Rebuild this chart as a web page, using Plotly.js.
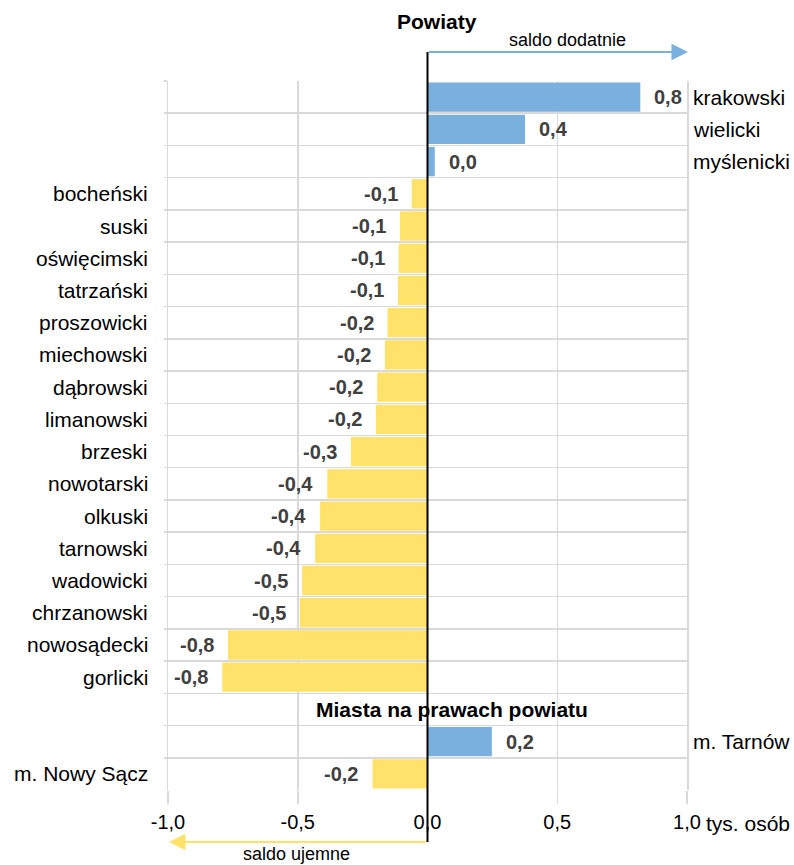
<!DOCTYPE html>
<html><head><meta charset="utf-8">
<script src="https://cdn.plot.ly/plotly-3.0.1.min.js"></script>
<style>html,body{margin:0;padding:0;background:#fff}</style>
</head><body><div id="chart" style="width:794px;height:865px"></div>
<script>
// ---- data ----
const powiaty = ['krakowski','wielicki','myślenicki','bocheński','suski','oświęcimski','tatrzański','proszowicki','miechowski','dąbrowski','limanowski','brzeski','nowotarski','olkuski','tarnowski','wadowicki','chrzanowski','nowosądecki','gorlicki'];
const powiatyValues = [0.82, 0.376, 0.028, -0.061, -0.106, -0.111, -0.114, -0.154, -0.164, -0.194, -0.199, -0.295, -0.386, -0.414, -0.433, -0.483, -0.492, -0.769, -0.791];
const miasta = ['m. Tarnów','m. Nowy Sącz'];
const miastaValues = [0.248, -0.212];
const headerPowiaty = 'Powiaty';
const headerMiasta = 'Miasta na prawach powiatu';
const xTicks = [-1, -0.5, 0, 0.5, 1];
const unitLabel = 'tys. osób';
const positiveLabel = 'saldo dodatnie';
const negativeLabel = 'saldo ujemne';

// ---- layout helpers ----
const W = 794, H = 865, L = 168, R = 107, T = 81, B = 75;
const plotW = W - L - R, plotH = H - T - B;
const px2x = p => (p - L) / plotW;
const py2y = p => (H - B - p) / plotH;
const XMIN = -1, XMAX = 1;
const zeroPaper = (0 - XMIN) / (XMAX - XMIN);

const fmt = v => v.toFixed(1).replace('.', ',');
const cats = [...powiaty, headerMiasta, ...miasta];
const vals = [...powiatyValues, null, ...miastaValues];
const BLUE = '#79B0DE', YELLOW = '#FFE269', GRID = '#d9d9d9';
const FONT = 'Liberation Sans, Arial, sans-serif';
const colors = vals.map(v => (v !== null && v > 0) ? BLUE : YELLOW);

const trace = {
  type: 'bar', orientation: 'h', y: cats, x: vals,
  marker: {color: colors, line: {width: 0}},
  hoverinfo: 'skip', showlegend: false
};

const annotations = [];
cats.forEach((c, i) => {
  const v = vals[i];
  if (v === null) return;
  const pos = v > 0;
  annotations.push({
    xref: 'x', yref: 'y', x: v, y: c, text: fmt(v),
    xanchor: pos ? 'left' : 'right', yanchor: 'middle',
    xshift: pos ? 12 : -12, showarrow: false,
    font: {family: FONT, size: 20, color: '#404040', weight: 'bold'}
  });
  annotations.push({
    xref: 'paper', yref: 'y', x: pos ? 1 : 0, y: c, text: c,
    xanchor: pos ? 'left' : 'right', yanchor: 'middle',
    xshift: pos ? 4 : -18, showarrow: false,
    font: {family: FONT, size: 21, color: '#000'}
  });
});
annotations.push({
  xref: 'paper', yref: 'y', x: px2x(452), y: headerMiasta, text: headerMiasta,
  xanchor: 'center', yanchor: 'middle', showarrow: false,
  font: {family: FONT, size: 21, color: '#000', weight: 'bold'}
});
annotations.push({
  xref: 'paper', yref: 'paper', x: px2x(437), y: py2y(22), text: headerPowiaty,
  xanchor: 'center', yanchor: 'middle', showarrow: false,
  font: {family: FONT, size: 21, color: '#000', weight: 'bold'}
});
annotations.push({
  xref: 'paper', yref: 'paper', x: px2x(567), y: py2y(40), text: positiveLabel,
  xanchor: 'center', yanchor: 'middle', showarrow: false,
  font: {family: FONT, size: 18, color: '#000'}
});
annotations.push({
  xref: 'paper', yref: 'paper', x: px2x(296), y: py2y(854), text: negativeLabel,
  xanchor: 'center', yanchor: 'middle', showarrow: false,
  font: {family: FONT, size: 18, color: '#000'}
});
annotations.push({
  xref: 'paper', yref: 'paper', x: px2x(704), y: py2y(823), text: unitLabel,
  xanchor: 'left', yanchor: 'middle', showarrow: false,
  font: {family: FONT, size: 21, color: '#000'}
});
// arrows
const zeroPx = L + zeroPaper * plotW;
annotations.push({
  xref: 'paper', yref: 'paper', x: px2x(688), y: py2y(52), axref: 'pixel', ayref: 'pixel',
  ax: zeroPx - 688, ay: 0, text: '', showarrow: true,
  arrowhead: 2, arrowsize: 1.65, arrowwidth: 2, arrowcolor: BLUE
});
annotations.push({
  xref: 'paper', yref: 'paper', x: px2x(169), y: py2y(842), axref: 'pixel', ayref: 'pixel',
  ax: zeroPx - 169, ay: 0, text: '', showarrow: true,
  arrowhead: 2, arrowsize: 1.65, arrowwidth: 2, arrowcolor: YELLOW
});

const layout = {
  width: W, height: H,
  margin: {l: L, r: R, t: T, b: B, pad: 0},
  paper_bgcolor: '#fff', plot_bgcolor: '#fff',
  font: {family: FONT, size: 20, color: '#000'},
  bargap: 0.09,
  showlegend: false,
  xaxis: {
    range: [XMIN, XMAX], tickvals: xTicks, ticktext: xTicks.map(fmt),
    showgrid: true, gridcolor: GRID, gridwidth: 1.5, zeroline: false,
    ticks: 'outside', ticklen: 13, tickcolor: GRID, tickwidth: 1.5,
    tickfont: {family: FONT, size: 20, color: '#000'},
    ticklabelstandoff: 1, showline: false, fixedrange: true
  },
  yaxis: {
    type: 'category', categoryorder: 'array', categoryarray: cats,
    autorange: 'reversed', tickson: 'boundaries',
    showgrid: true, gridcolor: GRID, gridwidth: 1.5,
    showticklabels: false, ticks: 'outside', ticklen: 3, tickcolor: GRID, tickwidth: 1.5,
    showline: true, linecolor: GRID, linewidth: 1.5, mirror: true,
    zeroline: false, fixedrange: true
  },
  shapes: [{
    type: 'line', xref: 'paper', yref: 'paper', x0: zeroPaper, x1: zeroPaper,
    y0: py2y(52), y1: py2y(842), line: {color: '#000', width: 2}, layer: 'above'
  }],
  annotations: annotations
};

Plotly.newPlot('chart', [trace], layout, {staticPlot: true, displayModeBar: false});
</script>
</body></html>
